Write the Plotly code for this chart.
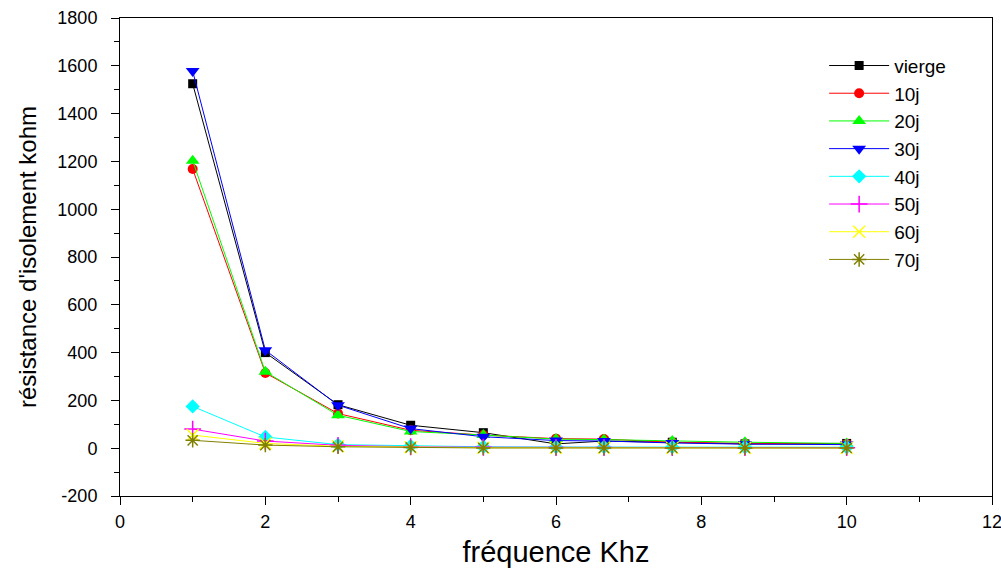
import plotly.graph_objects as go

freq = [1, 2, 3, 4, 5, 6, 6.66, 7.6, 8.6, 10]
series_names = ["vierge", "10j", "20j", "30j", "40j", "50j", "60j", "70j"]
vierge = [1525, 400, 182, 96, 65, 18, 30, 25, 18, 20]
j10 = [1168, 315, 145, 75, 55, 40, 38, 25, 20, 18]
j20 = [1203, 320, 138, 70, 55, 38, 36, 30, 25, 20]
j30 = [1578, 410, 180, 82, 48, 32, 30, 22, 17, 15]
j40 = [175, 47, 15, 10, 6, 5, 5, 5, 4, 4]
j50 = [80, 30, 12, 6, 4, 3, 3, 2, 2, 2]
j60 = [55, 20, 8, 4, 2, 2, 2, 1, 1, 1]
j70 = [33, 13, 6, 3, 1, 1, 1, 1, 1, 1]
values = [vierge, j10, j20, j30, j40, j50, j60, j70]

colors = ["#000000", "#FF0000", "#00FF00", "#0000FF", "#00FFFF", "#FF00FF", "#FFFF00", "#808000"]
symbols = ["square", "circle", "triangle-up", "triangle-down", "diamond", "cross-thin", "x-thin", "asterisk"]
sizes = [9, 10, 12, 12, 11, 12, 12, 12]

y_ticks = list(range(-200, 1801, 200))
y_ticktext = [str(v) for v in y_ticks]
x_ticks = [0, 2, 4, 6, 8, 10, 12]

fig = go.Figure()
for name, vals, c, s, sz in zip(series_names, values, colors, symbols, sizes):
    thin = s in ("cross-thin", "x-thin", "asterisk")
    fig.add_trace(go.Scatter(
        x=freq, y=vals, name=name, mode="lines+markers",
        line=dict(color=c, width=1),
        marker=dict(symbol=s, size=sz, color=c,
                    line=dict(color=c, width=1.5 if thin else 0)),
    ))

font = "Liberation Sans, Arial, sans-serif"
fig.update_layout(
    width=1001, height=577,
    margin=dict(l=120, r=9, t=18, b=81),
    paper_bgcolor="white", plot_bgcolor="white",
    font=dict(family=font, color="black"),
    showlegend=True,
    legend=dict(x=0.8075, y=0.94, xanchor="left", yanchor="top",
                font=dict(size=19, family=font), itemwidth=60,
                bgcolor="rgba(0,0,0,0)", borderwidth=0),
    xaxis=dict(range=[0, 12], tickvals=x_ticks, automargin=False,
               showgrid=False, zeroline=False, showline=True, linecolor="black",
               linewidth=1, mirror=True, ticks="outside", ticklen=8, tickcolor="black",
               ticklabelstandoff=1, ticklabeloverflow="allow",
               tickfont=dict(size=18, family="Liberation Sans Narrow, Arial Narrow, Liberation Sans, sans-serif"),
               minor=dict(dtick=1, ticks="outside", ticklen=5, tickcolor="black"),
               title=dict(text="fréquence Khz", font=dict(size=29, family=font), standoff=11)),
    yaxis=dict(range=[-200, 1800], tickvals=y_ticks, ticktext=y_ticktext, automargin=False,
               showgrid=False, zeroline=False, showline=True, linecolor="black",
               linewidth=1, mirror=True, ticks="outside", ticklen=8, tickcolor="black",
               ticklabelstandoff=10, ticklabeloverflow="allow",
               tickfont=dict(size=18, family=font),
               minor=dict(dtick=100, ticks="outside", ticklen=5, tickcolor="black"),
               title=dict(text="résistance d'isolement kohm", font=dict(size=24, family=font), standoff=13)),
)

fig.write_html("out.html", config={"displayModeBar": False},
               post_script="document.body.style.margin='0';document.body.style.overflow='hidden';")
